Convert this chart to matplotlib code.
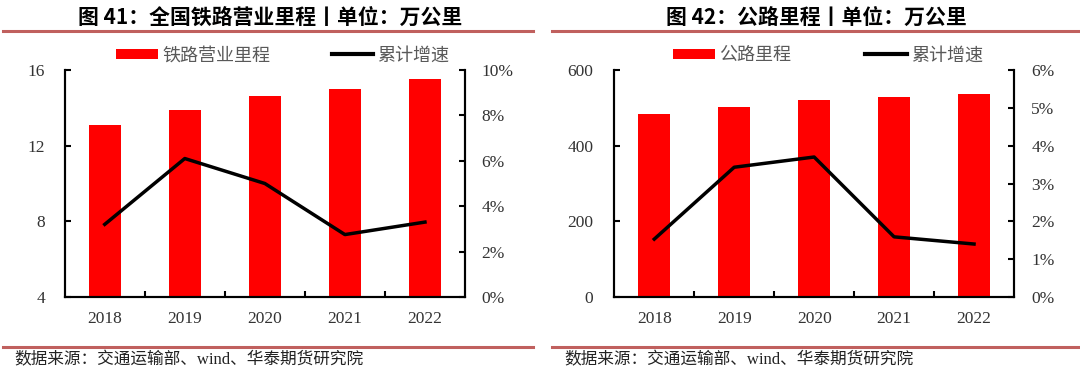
import matplotlib
matplotlib.use("Agg")
import matplotlib.pyplot as plt
from matplotlib.lines import Line2D
from matplotlib.ticker import FixedLocator

plt.rcParams['font.family'] = ['Noto Sans CJK SC', 'DejaVu Sans']

years = ['2018', '2019', '2020', '2021', '2022']

rail_km = [13.1, 13.9, 14.6, 15.0, 15.5]          # 万公里
rail_growth = [3.2, 6.1, 5.0, 2.75, 3.3]          # %

road_km = [484.65, 501.25, 519.81, 528.07, 535.48]  # 万公里
road_growth = [1.53, 3.43, 3.70, 1.59, 1.40]        # %

titles = ['图 41：全国铁路营业里程丨单位：万公里', '图 42：公路里程丨单位：万公里']
bar_labels = ['铁路营业里程', '公路里程']
line_label = '累计增速'
source = '数据来源：交通运输部、wind、华泰期货研究院'

W, H = 1080, 371
fig = plt.figure(figsize=(W / 100, H / 100), dpi=100)

RED = '#FF0000'
LINE_RED = '#C0605E'
TICK_COLOR = '#333333'
serif = 'Liberation Serif'


def px_axes(x0, x1, ytop, ybot):
    return fig.add_axes([x0 / W, 1 - ybot / H, (x1 - x0) / W, (ybot - ytop) / H])


def draw(ax, bars, growth, ylim, yticks, y2lim, y2ticks, blabel, lpad, rpad, colsp, legend_x):
    x = list(range(len(years)))
    b = ax.bar(x, bars, width=0.4, color=RED, label=blabel, zorder=2)
    ax.set_xlim(-0.5, len(years) - 0.5)
    ax.set_ylim(*ylim)
    ax.set_yticks(yticks)
    ax.set_yticklabels([str(t) for t in yticks], fontfamily=serif, fontsize=12.5, color=TICK_COLOR)
    ax.set_xticks(x)
    ax.set_xticklabels(years, fontfamily=serif, fontsize=12.5, color=TICK_COLOR)
    ax.xaxis.set_minor_locator(FixedLocator([i + 0.5 for i in x[:-1]]))
    ax.tick_params(axis='x', which='major', length=0, pad=10)
    ax.tick_params(axis='x', which='minor', direction='in', length=4, width=1.5)
    ax.tick_params(axis='y', direction='in', length=4, width=1.5, pad=lpad)
    for s in ['left', 'bottom', 'right']:
        ax.spines[s].set_linewidth(1.5)
    ax.spines['top'].set_visible(False)

    ax2 = ax.twinx()
    ax2.plot(x, growth, color='black', lw=2.5, label=line_label, zorder=3)
    ax2.set_ylim(*y2lim)
    ax2.set_yticks(y2ticks)
    ax2.set_yticklabels([f'{t:g}%' for t in y2ticks], fontfamily=serif, fontsize=12.5, color=TICK_COLOR)
    ax2.tick_params(axis='y', direction='in', length=4, width=1.5, pad=rpad)
    for s in ['left', 'bottom', 'right']:
        ax2.spines[s].set_linewidth(1.5)
    ax2.spines['top'].set_visible(False)

    handles = [b, Line2D([0], [0], color='black', lw=3)]
    ax.legend(handles, [blabel, line_label], ncol=2, frameon=False,
              loc='center', bbox_to_anchor=(legend_x, 1.065),
              fontsize=13, handlelength=2.3, handleheight=0.5,
              handletextpad=0.25, columnspacing=colsp, labelcolor='#595959',
              borderaxespad=0, borderpad=0)
    return ax2


ax_l = px_axes(64.7, 465, 70, 297)
draw(ax_l, rail_km, rail_growth, (4, 16), [4, 8, 12, 16], (0, 10), [0, 2, 4, 6, 8, 10],
     bar_labels[0], 14, 12, 3.4, 0.545)

ax_r = px_axes(614.3, 1014, 70, 297)
draw(ax_r, road_km, road_growth, (0, 600), [0, 200, 400, 600], (0, 6), [0, 1, 2, 3, 4, 5, 6],
     bar_labels[1], 15, 12.5, 4.1, 0.535)

# titles
fig.text(270 / W, 1 - 17 / H, titles[0], ha='center', va='center', fontsize=15, fontweight='bold')
fig.text(816 / W, 1 - 17 / H, titles[1], ha='center', va='center', fontsize=15, fontweight='bold')

# decorative separator lines
for (x0, x1) in [(3, 533), (552, 1078)]:
    fig.add_artist(Line2D([x0 / W, x1 / W], [1 - 30.5 / H, 1 - 30.5 / H], color=LINE_RED, lw=2.2))
    fig.add_artist(Line2D([x0 / W, x1 / W], [1 - 347 / H, 1 - 347 / H], color=LINE_RED, lw=2.2))

src_family = ['Liberation Serif', 'Noto Sans CJK SC']
fig.text(14 / W, 1 - 360 / H, source, ha='left', va='center', fontsize=12,
         color='#222222', family=src_family)
fig.text(564 / W, 1 - 360 / H, source, ha='left', va='center', fontsize=12,
         color='#222222', family=src_family)

fig.savefig('out.png', dpi=100)
